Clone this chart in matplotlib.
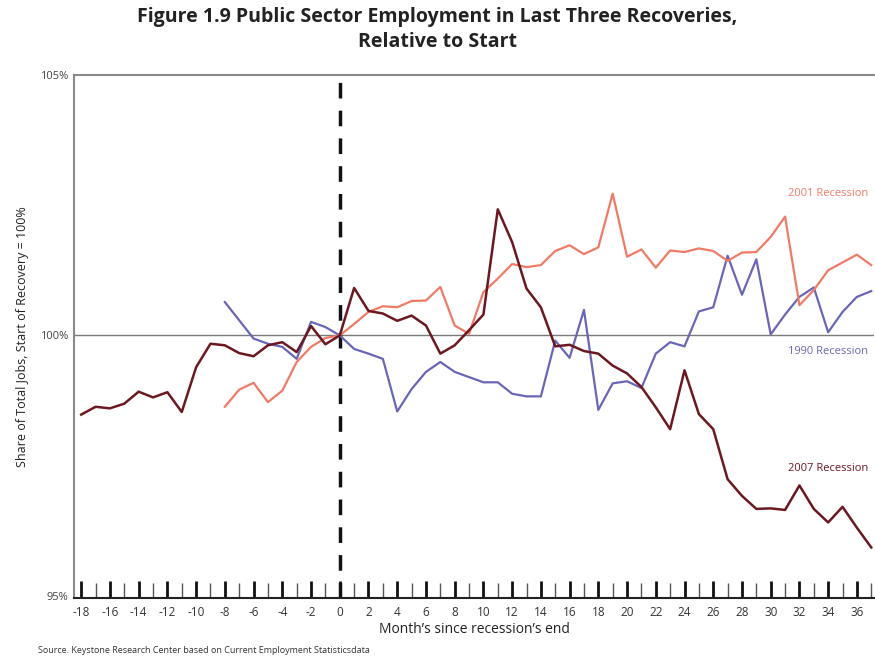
import numpy as np
import matplotlib
matplotlib.use("Agg")
import matplotlib.pyplot as plt
from matplotlib.ticker import MultipleLocator, FixedLocator

plt.rcParams['font.family'] = ['Open Sans', 'DejaVu Sans']
plt.rcParams['axes.unicode_minus'] = False

# ---- data ----
months_2007 = list(range(-18, 38))
rec_2007 = [98.48, 98.63, 98.60, 98.69, 98.92, 98.81, 98.91, 98.53, 99.39, 99.84,
            99.81, 99.66, 99.60, 99.81, 99.87, 99.68, 100.18, 99.83, 100.00, 100.91,
            100.47, 100.42, 100.28, 100.38, 100.19, 99.65, 99.81, 100.10, 100.40, 102.42,
            101.79, 100.90, 100.54, 99.79, 99.82, 99.70, 99.65, 99.42, 99.27, 99.01,
            98.62, 98.20, 99.33, 98.49, 98.20, 97.24, 96.92, 96.67, 96.68, 96.65,
            97.12, 96.67, 96.41, 96.71, 96.31, 95.93]

months_2001 = list(range(-8, 38))
rec_2001 = [98.63, 98.96, 99.09, 98.72, 98.94, 99.49, 99.78, 99.95, 100.00, 100.22,
            100.45, 100.56, 100.54, 100.66, 100.67, 100.93, 100.19, 100.03, 100.83, 101.09,
            101.37, 101.31, 101.35, 101.62, 101.73, 101.56, 101.69, 102.72, 101.51, 101.65,
            101.30, 101.63, 101.60, 101.67, 101.62, 101.43, 101.59, 101.60, 101.89, 102.28,
            100.58, 100.87, 101.25, 101.40, 101.55, 101.35]

months_1990 = list(range(-8, 38))
rec_1990 = [100.64, 100.29, 99.94, 99.84, 99.78, 99.55, 100.26, 100.16, 100.00, 99.74,
            99.65, 99.55, 98.54, 98.97, 99.30, 99.49, 99.30, 99.20, 99.10, 99.10,
            98.88, 98.83, 98.83, 99.90, 99.57, 100.49, 98.57, 99.08, 99.12, 98.99,
            99.65, 99.87, 99.79, 100.46, 100.54, 101.53, 100.78, 101.46, 100.02, 100.40,
            100.74, 100.92, 100.06, 100.45, 100.74, 100.85]

y_ticks = [95, 100, 105]
y_labels = ["95%", "100%", "105%"]

C_2001 = "#ef7b67"
C_1990 = "#6a66b6"
C_2007 = "#6b1820"

fig = plt.figure(figsize=(8.75, 6.57), dpi=100)
ax = fig.add_axes([0.0846, 0.0898, 0.9144, 0.7962])

ax.axhline(100, color="#7a7a7a", lw=1.0, zorder=1)
ax.axvline(0, color="#111111", lw=2.5, ls=(0, (4.5, 3.5)), zorder=2)

ax.plot(months_1990, rec_1990, color=C_1990, lw=1.6, zorder=3)
ax.plot(months_2001, rec_2001, color=C_2001, lw=1.6, zorder=3)
ax.plot(months_2007, rec_2007, color=C_2007, lw=1.8, zorder=4)

ax.set_xlim(-18.5, 37.2)
ax.set_ylim(94.96, 105)

ax.xaxis.set_major_locator(MultipleLocator(2))
ax.xaxis.set_minor_locator(MultipleLocator(1))
ax.tick_params(axis='x', which='major', direction='in', length=12, width=2.0,
               color="#111111", labelsize=8.5, pad=6, labelcolor="#333333")
ax.tick_params(axis='x', which='minor', direction='in', length=11, width=1.0,
               color="#555555")
ax.yaxis.set_major_locator(FixedLocator(y_ticks))
ax.set_yticklabels(y_labels)
ax.tick_params(axis='y', length=0, labelsize=8, pad=4, labelcolor="#444444")

for s in ['top', 'left']:
    ax.spines[s].set_color("#8a8a8a")
    ax.spines[s].set_linewidth(1.5)
ax.spines['right'].set_visible(False)
ax.spines['bottom'].set_color("#222222")
ax.spines['bottom'].set_linewidth(1.5)

ax.set_xlabel("Month\u2019s since recession\u2019s end", fontsize=10, color="#222222", labelpad=2)
ax.set_ylabel("Share of Total Jobs, Start of Recovery = 100%", fontsize=9, color="#222222", labelpad=8)

ax.text(36.8, 102.73, "2001 Recession", color=C_2001, fontsize=8, ha='right', va='center')
ax.text(36.8, 99.7, "1990 Recession", color=C_1990, fontsize=8, ha='right', va='center')
ax.text(36.8, 97.45, "2007 Recession", color=C_2007, fontsize=8, ha='right', va='center')

fig.text(0.5, 0.955, "Figure 1.9 Public Sector Employment in Last Three Recoveries,\nRelative to Start",
         ha='center', va='center', fontsize=14, fontweight='bold', color="#222222", linespacing=1.3)
fig.text(0.043, 0.003, "Source. Keystone Research Center based on Current Employment Statisticsdata",
         fontsize=6.5, color="#333333", ha='left', va='bottom')

fig.savefig("out.png", dpi=100)
